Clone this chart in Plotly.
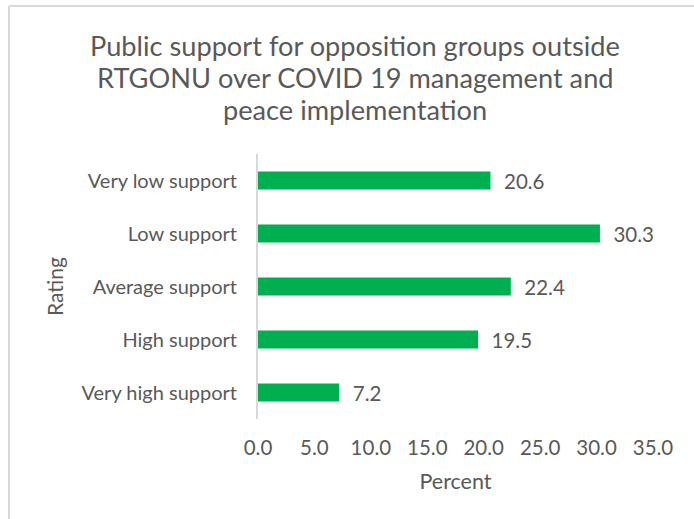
import plotly.graph_objects as go

# Survey ratings and share of respondents (percent)
categories = ["Very low support", "Low support", "Average support", "High support", "Very high support"]
percent = [20.6, 30.3, 22.4, 19.5, 7.2]
x_ticks = [0, 5, 10, 15, 20, 25, 30, 35]
x_tick_labels = ["0.0", "5.0", "10.0", "15.0", "20.0", "25.0", "30.0", "35.0"]

title_lines = [
    "Public support for opposition groups outside",
    "RTGONU over COVID 19 management and",
    "peace implementation",
]

FONT = "Lato"
GREY = "#595959"
W, H = 694, 519
M_L, M_R, M_T, M_B = 258, 41, 154, 100
PW, PH = W - M_L - M_R, H - M_T - M_B


def px_to_paper_x(px):
    return (px - M_L) / PW


def px_to_paper_y(py):
    return (H - M_B - py) / PH


fig = go.Figure(
    go.Bar(
        x=percent,
        y=categories,
        orientation="h",
        marker=dict(color="#00B050", line=dict(width=0)),
        width=0.34,
        text=percent,
        texttemplate="\u00a0\u00a0%{x:.1f}",
        textposition="outside",
        constraintext="none",
        textfont=dict(family=FONT, size=20.5, color=GREY),
        cliponaxis=False,
        hoverinfo="x+y",
    )
)

title_annotations = [
    dict(
        text=line,
        xref="paper",
        yref="paper",
        x=px_to_paper_x(355),
        y=px_to_paper_y(y),
        xanchor="center",
        yanchor="middle",
        showarrow=False,
        font=dict(family=FONT, size=27.2, color=GREY),
    )
    for line, y in zip(title_lines, [45, 77, 109])
]

fig.update_layout(
    width=W,
    height=H,
    margin=dict(l=M_L, r=M_R, t=M_T, b=M_B, pad=0),
    paper_bgcolor="white",
    plot_bgcolor="white",
    showlegend=False,
    font=dict(family=FONT, color=GREY),
    xaxis=dict(
        range=[0, 35],
        tickvals=x_ticks,
        ticktext=x_tick_labels,
        tickfont=dict(family=FONT, size=20.5, color=GREY),
        showgrid=False,
        zeroline=False,
        showline=False,
        ticks="",
        ticklabelstandoff=14,
        title=dict(text="Percent", font=dict(family=FONT, size=21.5, color=GREY), standoff=16),
    ),
    yaxis=dict(
        categoryorder="array",
        categoryarray=categories[::-1],
        tickfont=dict(family=FONT, size=20, color=GREY),
        showgrid=False,
        zeroline=False,
        showline=True,
        linecolor="#D9D9D9",
        linewidth=2,
        ticks="",
        ticklabelstandoff=15,
        title=dict(text="Rating", font=dict(family=FONT, size=21, color=GREY), standoff=12),
    ),
    annotations=title_annotations,
    shapes=[
        # chart frame (left and top edges visible)
        dict(type="line", xref="paper", yref="paper",
             x0=px_to_paper_x(9), x1=px_to_paper_x(9),
             y0=px_to_paper_y(530), y1=px_to_paper_y(6),
             line=dict(color="#D9D9D9", width=2)),
        dict(type="line", xref="paper", yref="paper",
             x0=px_to_paper_x(9), x1=px_to_paper_x(710),
             y0=px_to_paper_y(6), y1=px_to_paper_y(6),
             line=dict(color="#D9D9D9", width=2)),
    ],
)

fig.write_html("out.html")
